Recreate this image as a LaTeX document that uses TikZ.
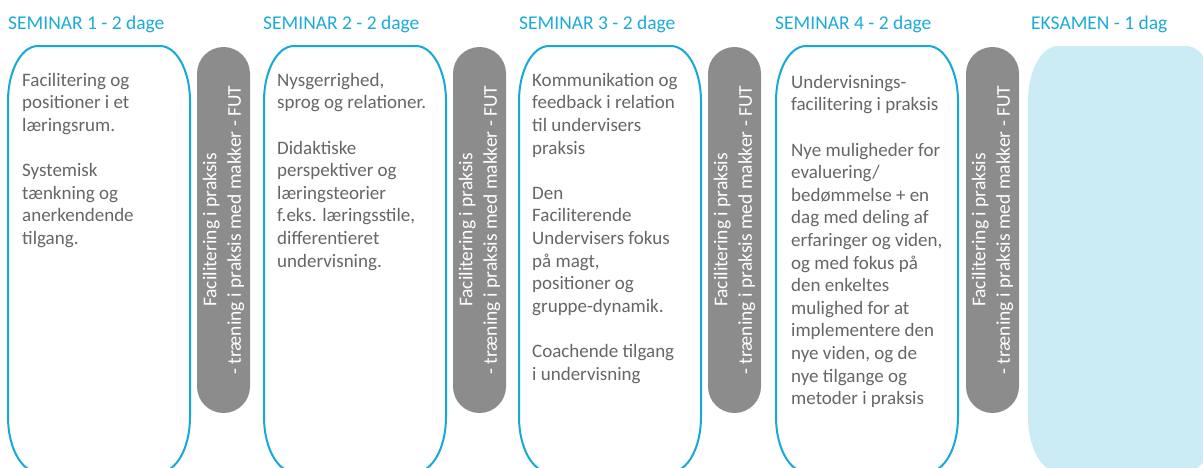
\documentclass[tikz,border=0pt]{standalone}
\usepackage{fontspec}
\setmainfont{Carlito}
\definecolor{cyanline}{HTML}{16A9D7}
\definecolor{cyantext}{HTML}{1AABD9}
\definecolor{examfill}{HTML}{CCECF5}
\definecolor{pillgray}{HTML}{8C8C8C}
\definecolor{bodygray}{HTML}{666666}
\newcommand\semiboxpath[4]{% x0, x1, top, bottom
  (#1,{#3+55}) .. controls (#1,{#3+24.6}) and ({#1+13.4},#3) .. ({#1+30},#3)
  -- ({#2-30},#3) .. controls ({#2-13.4},#3) and (#2,{#3+24.6}) .. (#2,{#3+55})
  -- (#2,{#4-55}) .. controls (#2,{#4-24.6}) and ({#2-13.4},#4) .. ({#2-30},#4)
  -- ({#1+30},#4) .. controls ({#1+13.4},#4) and (#1,{#4-24.6}) .. (#1,{#4-55}) -- cycle}
\tikzset{
  semline/.style={draw=cyanline, line width=2pt, fill=white},
  examshape/.style={fill=examfill, draw=none},
  pill/.style={fill=pillgray, draw=none, rounded corners=26.5pt},
  title/.style={anchor=base west, inner sep=0pt, text=cyantext, font=\fontsize{19.5}{23}\selectfont},
  body/.style={anchor=north west, inner sep=0pt, text=bodygray, align=left,
    font=\fontsize{19}{22.6}\selectfont},
  pilltext/.style={rotate=90, text=white, align=center, inner sep=0pt,
    font=\fontsize{19.5}{24.5}\selectfont},
}
\newcommand\pilllabel{Facilitering i praksis\\- træning i praksis med makker - FUT}
\begin{document}
\begin{tikzpicture}[x=1pt,y=-1pt]
\useasboundingbox (0,0) rectangle (1203,467);
\clip (0,0) rectangle (1203,467);
% titles
\node[title] (t1) at (8,29) {SEMINAR 1 - 2 dage};
\node[title] (t2) at (263,29) {SEMINAR 2 - 2 dage};
\node[title] (t3) at (519,29) {SEMINAR 3 - 2 dage};
\node[title] (t4) at (775,29) {SEMINAR 4 - 2 dage};
\node[title] (t5) at (1031,29) {EKSAMEN - 1 dag};
% seminar boxes
\path[semline] \semiboxpath{8}{190}{46}{472};
\path[semline] \semiboxpath{264}{446}{46}{472};
\path[semline] \semiboxpath{519}{701}{46}{472};
\path[semline] \semiboxpath{776}{958}{46}{472};
\path[examshape] \semiboxpath{1028}{1216}{46}{472};
% pills
\foreach \px/\nm in {197/p1,453/p2,708/p3,966/p4}{
  \path[pill] (\px,47) rectangle ({\px+53},413);
  \node[pilltext] (\nm) at ({\px+26.5},230) {\pilllabel};
}
% body texts
\node[body] (b1) at (22,70) {\rule{0pt}{16pt}Facilitering og\\positioner i et\\læringsrum.\\[22.6pt]Systemisk\\tænkning og\\anerkendende\\tilgang.};
\node[body] (b2) at (277,70) {\rule{0pt}{16pt}Nysgerrighed,\\sprog og relationer.\\[22.6pt]Didaktiske\\perspektiver og\\læringsteorier\\f.eks. læringsstile,\\differentieret\\undervisning.};
\node[body] (b3) at (532,70) {\rule{0pt}{16pt}Kommunikation og\\feedback i relation\\til undervisers\\praksis\\[22.6pt]Den\\Faciliterende\\Undervisers fokus\\på magt,\\positioner og\\gruppe-dynamik.\\[22.6pt]Coachende tilgang\\i undervisning};
\node[body] (b4) at (791,72) {\rule{0pt}{16pt}Undervisnings-\\facilitering i praksis\\[22.6pt]Nye muligheder for\\evaluering/\\bedømmelse + en\\dag med deling af\\erfaringer og viden,\\og med fokus på\\den enkeltes\\mulighed for at\\implementere den\\nye viden, og de\\nye tilgange og\\metoder i praksis};
\end{tikzpicture}
\end{document}
